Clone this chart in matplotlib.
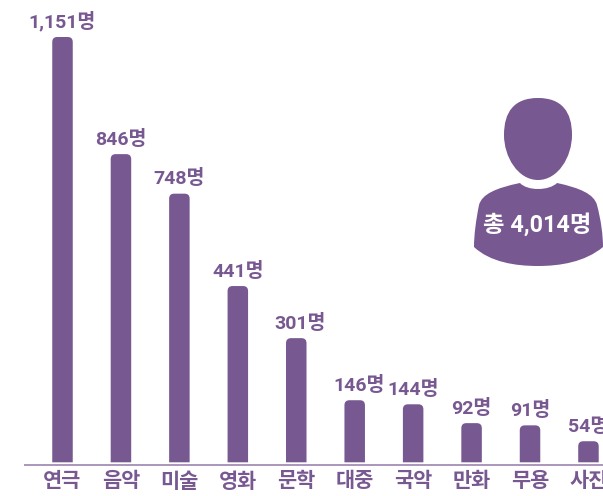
import matplotlib
matplotlib.use("Agg")
import matplotlib.pyplot as plt
from matplotlib.path import Path
from matplotlib.patches import PathPatch
from matplotlib.transforms import Affine2D

plt.rcParams['font.family'] = ['Roboto', 'Noto Sans CJK KR', 'DejaVu Sans']

categories = ['연극', '음악', '미술', '영화', '문학', '대중', '국악', '만화', '무용', '사진']
value_labels = ['1,151명', '846명', '748명', '441명', '301명', '146명', '144명', '92명', '91명', '54명']
bar_heights = [1151, 834, 727, 477, 336, 168, 157, 106, 100, 57]
total_label = '총 4,014명'

PURPLE = '#785891'
W, H = 603, 496
fig = plt.figure(figsize=(W / 100, H / 100), dpi=100)
ax = fig.add_axes([0, 0, 1, 1])
step = 58.44
scale = 425.3 / 1151
ax.set_xlim(-62.5 / step, (W - 62.5) / step)
base_px = 462.3
ax.set_ylim(-(H - base_px) / scale, base_px / scale)
ax.axis('off')

bw = 20.5 / step
rx, ry = 5.0 / step, 5.0 / scale
for i, h in enumerate(bar_heights):
    l, r = i - bw / 2, i + bw / 2
    verts = [(l, 0), (l, h - ry), (l, h), (l + rx, h), (r - rx, h), (r, h), (r, h - ry), (r, 0), (l, 0)]
    codes = [Path.MOVETO, Path.LINETO, Path.CURVE3, Path.CURVE3, Path.LINETO, Path.CURVE3, Path.CURVE3, Path.LINETO, Path.CLOSEPOLY]
    ax.add_patch(PathPatch(Path(verts, codes), fc=PURPLE, ec='none'))
    dx = 4 if value_labels[i] in ('146명', '301명') else 0
    ax.annotate(value_labels[i], (i, h), xytext=(dx, 5.5), textcoords='offset pixels',
                ha='center', va='bottom', fontsize=14, fontweight='bold', color=PURPLE, annotation_clip=False)
    ax.annotate(categories[i], (i, 0), xytext=(0, -19.5), textcoords='offset pixels',
                ha='center', va='center', fontsize=15, fontweight='bold', color=PURPLE, annotation_clip=False)

ax.plot([24 / W, 1], [(H - 464.7) / H] * 2, transform=ax.transAxes, color='#9c84b0', lw=1.2, solid_capstyle='butt')

# person icon (pixel coordinates, y down)
px = Affine2D().scale(1, -1).translate(0, H) + Affine2D().scale(1 / W, 1 / H) + fig.transFigure
head = Path([(538, 98),
             (562, 98), (572, 112), (572, 135),
             (572, 157), (558, 180), (538, 180),
             (518, 180), (504, 157), (504, 135),
             (504, 112), (514, 98), (538, 98),
             (538, 98)],
            [Path.MOVETO] + [Path.CURVE4] * 12 + [Path.CLOSEPOLY])
body = Path([(520, 183), (527, 191), (549, 191), (557, 183),
             (580, 188), (594, 194), (597, 205),
             (601, 220), (603, 235), (603, 247),
             (585, 262), (560, 266), (538, 266),
             (515, 266), (490, 262), (474, 247),
             (474, 235), (476, 220), (479, 205),
             (482, 194), (496, 188), (520, 183), (520, 183)],
            [Path.MOVETO] + [Path.CURVE4] * 21 + [Path.CLOSEPOLY])
fig.add_artist(PathPatch(head, fc=PURPLE, ec='none', transform=px))
fig.add_artist(PathPatch(body, fc=PURPLE, ec='none', transform=px))
fig.text(537.5 / W, 1 - 225 / H, total_label, ha='center', va='center', fontsize=16.8, fontweight='bold', color='white')

fig.savefig('out.png', dpi=100)
